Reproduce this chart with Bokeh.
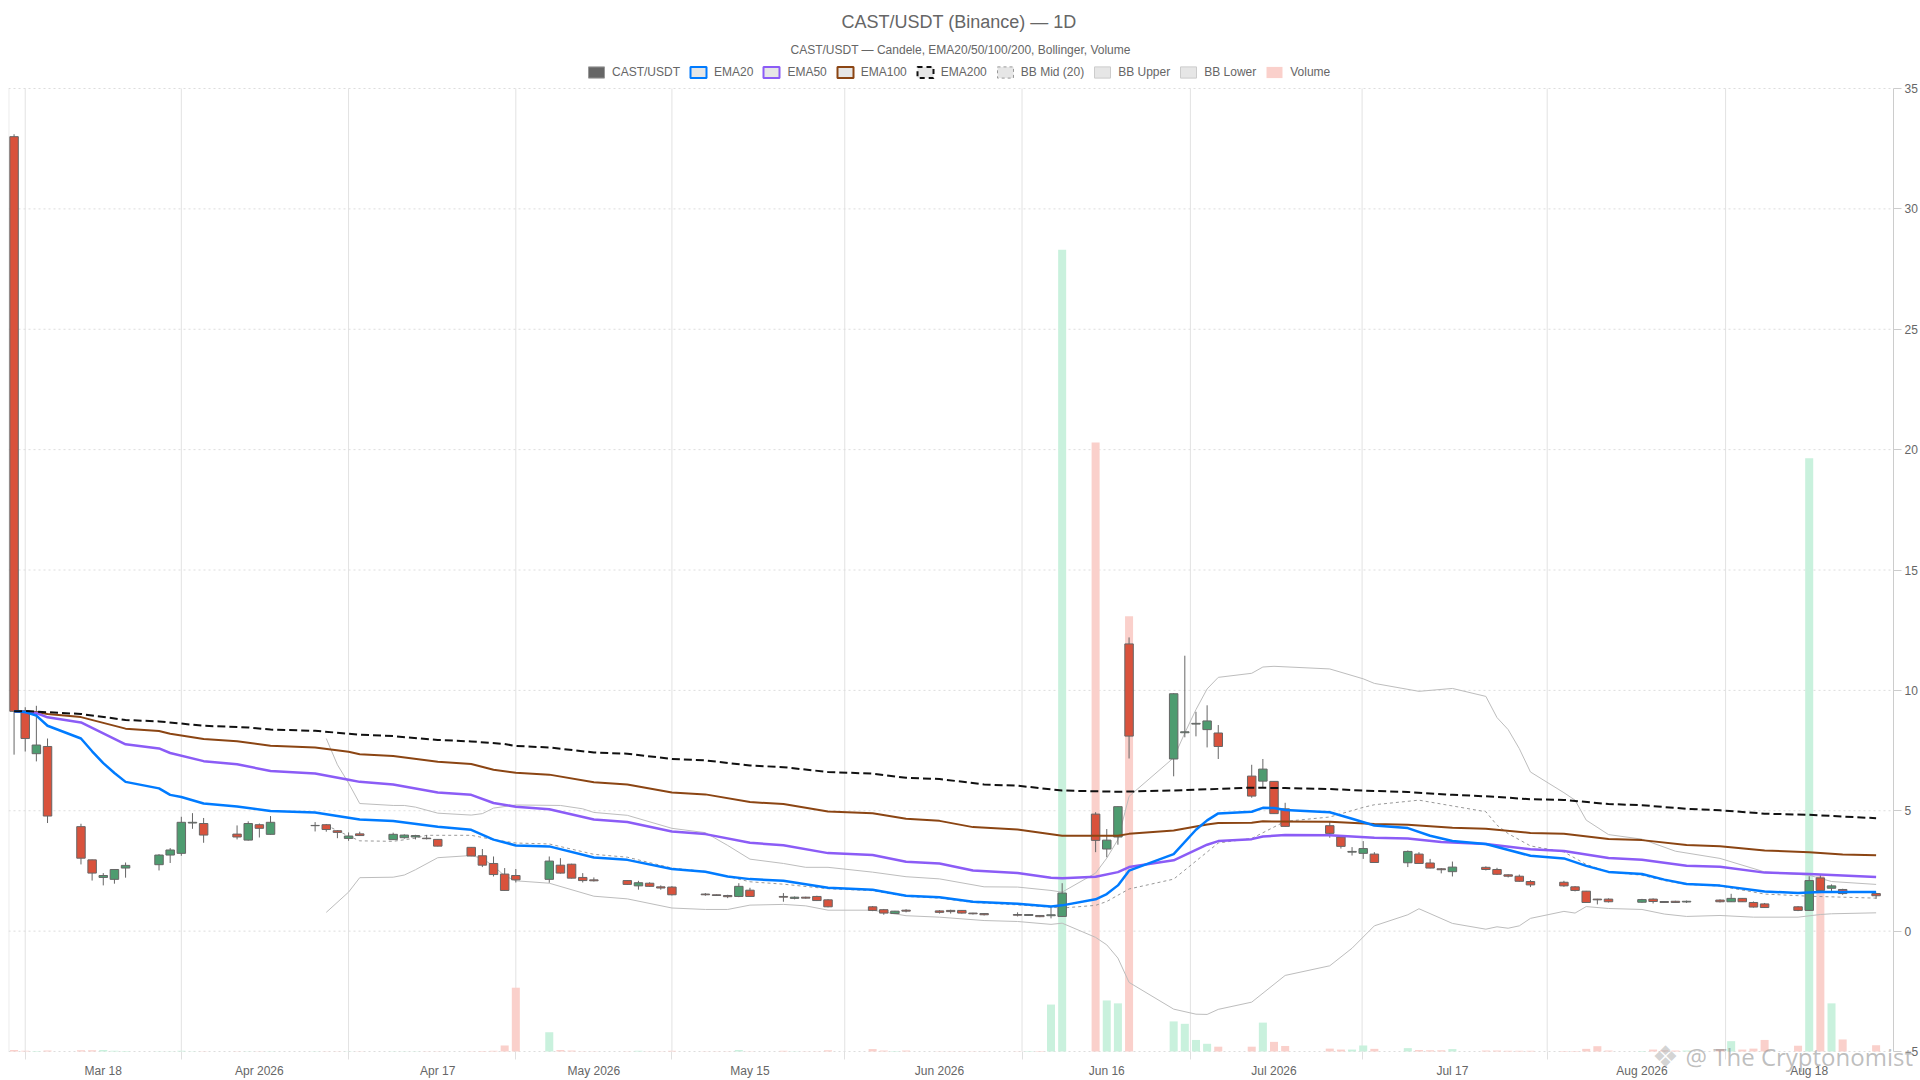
from bokeh.plotting import figure
from bokeh.embed import file_html
from bokeh.resources import INLINE
from bokeh.models import (Range1d, FixedTicker, LinearAxis, Legend, LegendItem, Title, Label,
                          ColumnDataSource)

TITLE = "CAST/USDT (Binance) — 1D"
SUBTITLE = "CAST/USDT — Candele, EMA20/50/100/200, Bollinger, Volume"

# Candles: day index from the first session (10 Mar 2026), open, high, low, close
idx = [0,1,2,3,6,7,8,9,10,13,14,15,16,17,20,21,22,23,27,28,29,30,31,34,35,36,37,38,41,42,43,44,45,48,49,50,51,52,55,56,57,58,59,62,63,64,65,66,69,70,71,72,73,77,78,79,80,83,84,85,86,87,90,91,92,93,94,97,98,99,100,104,105,106,107,108,111,112,113,114,118,119,120,121,122,125,126,127,128,129,132,133,134,135,136,139,140,141,142,143,146,147,148,149,150,153,154,155,156,157,160,161,162,163,164,167]
opens = [33.0,9.15,7.37,7.67,4.34,2.96,2.23,2.15,2.62,2.76,3.16,3.23,4.49,4.47,4.03,3.78,4.42,4.02,4.38,4.42,4.17,3.85,4.04,3.8,3.88,3.91,3.86,3.81,3.48,3.13,2.81,2.37,2.31,2.15,2.74,2.78,2.23,2.13,2.1,1.88,1.99,1.84,1.83,1.54,1.51,1.48,1.44,1.7,1.44,1.36,1.41,1.44,1.3,1.01,.89,.73,.87,.84,.86,.86,.75,.73,.69,.65,.65,.64,.61,4.86,3.41,3.91,11.93,7.15,8.24,8.6,8.37,8.23,6.44,6.23,6.22,5.08,4.38,3.91,3.28,3.23,3.2,2.84,3.2,2.83,2.59,2.47,2.65,2.56,2.34,2.28,2.06,2.03,1.84,1.66,1.33,1.33,1.2,1.33,1.23,1.24,1.21,1.29,1.22,1.36,1.19,1.13,1.01,.86,2.21,1.78,1.73,1.56]
highs = [33.1,9.3,9.36,8.0,4.46,2.97,2.41,2.57,2.85,3.2,3.45,4.75,4.9,4.7,4.39,4.56,4.47,4.78,4.53,4.45,4.18,4.1,4.13,4.09,4.02,4.0,3.99,3.82,3.49,3.41,3.1,2.62,2.58,3.1,3.03,2.8,2.41,2.23,2.11,2.09,2.03,1.9,1.87,1.58,1.52,1.51,1.99,1.8,1.58,1.44,1.43,1.47,1.33,1.04,.92,.84,.91,.87,.89,.87,.76,.75,.78,.7,.66,1.0,1.99,4.94,4.24,5.18,12.2,9.88,11.44,9.11,9.38,8.56,6.91,7.15,6.23,5.33,4.57,3.94,3.49,3.74,3.28,3.35,3.28,3.0,2.62,2.89,2.69,2.63,2.36,2.35,2.12,2.09,1.87,1.67,1.34,1.36,1.34,1.36,1.25,1.26,1.27,1.32,1.55,1.37,1.23,1.17,1.04,2.28,2.37,1.94,1.76,1.59]
lows = [7.33,7.46,7.05,4.49,2.77,2.1,1.9,1.97,2.22,2.52,2.83,3.13,4.25,3.67,3.81,3.76,3.89,4.01,4.14,4.13,3.86,3.75,3.96,3.79,3.84,3.81,3.81,3.52,3.11,2.66,2.27,1.67,2.02,2.01,2.39,2.19,2.02,2.06,1.92,1.72,1.84,1.72,1.48,1.47,1.46,1.37,1.41,1.43,1.22,1.32,1.35,1.25,.99,.83,.68,.72,.78,.73,.73,.73,.69,.65,.61,.64,.58,.53,.59,3.28,3.07,3.59,7.17,6.43,8.05,8.09,7.63,7.15,5.54,5.94,4.87,4.34,3.88,3.43,3.14,3.0,2.83,2.66,2.8,2.61,2.4,2.27,2.52,2.33,2.23,2.05,1.83,1.84,1.65,1.18,1.11,1.19,1.18,1.15,1.18,1.17,1.17,1.19,1.21,1.21,.98,.96,.83,.84,1.58,1.63,1.51,1.34]
closes = [9.13,8.0,7.73,4.78,3.03,2.41,2.31,2.56,2.73,3.16,3.37,4.52,4.52,3.99,3.91,4.47,4.27,4.52,4.39,4.22,4.10,3.95,3.97,4.02,3.99,3.97,3.84,3.53,3.12,2.74,2.35,1.69,2.13,2.91,2.41,2.2,2.1,2.09,1.94,2.01,1.86,1.79,1.51,1.51,1.48,1.43,1.86,1.44,1.41,1.41,1.37,1.27,1.01,.86,.75,.83,.83,.78,.81,.75,.72,.68,.66,.69,.6,.68,1.58,3.77,3.78,5.17,8.1,9.86,8.28,8.63,8.73,7.67,5.61,6.73,4.88,4.35,4.06,3.52,3.31,3.43,2.85,3.31,2.81,2.62,2.55,2.66,2.56,2.36,2.28,2.07,1.92,1.88,1.69,1.19,1.3,1.22,1.31,1.23,1.19,1.19,1.24,1.22,1.36,1.22,1.0,.98,.86,2.1,1.69,1.88,1.56,1.47]
volume = [.06,.03,.02,.04,.05,.05,.06,.03,.02,.01,.01,.03,.01,.01,.01,.01,.01,.01,.01,.01,.01,.01,.01,.01,.01,.01,.01,.01,.01,.02,.03,.25,2.65,.8,.06,.04,.01,.01,.01,.03,.01,.01,.03,.01,.01,.01,.06,.01,.03,.01,.01,.01,.05,.1,.04,.02,.04,.01,.01,.01,.01,.01,.01,.02,.02,1.95,33.3,25.3,2.12,2.0,18.08,1.25,1.15,.48,.32,.2,.2,1.2,.4,.23,.12,.08,.08,.25,.11,.14,.06,.05,.05,.1,.04,.04,.03,.03,.03,.02,.02,.11,.22,.04,.02,.08,.05,.04,.04,.1,.43,.08,.12,.48,.24,24.64,7.3,2.0,.5,.26]

ema20_x = [0,1,2,3,6,7,8,9,10,13,14,15,17,20,23,27,30,31,34,38,41,43,45,48,52,55,59,62,64,66,69,73,77,80,83,86,90,93,94,97,98,99,100,104,106,107,108,111,112,113,114,118,120,122,125,127,129,132,136,139,141,143,146,148,150,153,157,160,162,167]
ema20_y = [9.13,9.1,8.95,8.53,8.0,7.47,6.98,6.57,6.2,5.93,5.66,5.57,5.3,5.18,4.99,4.93,4.71,4.64,4.57,4.34,4.21,3.8,3.56,3.52,3.06,2.96,2.58,2.47,2.27,2.16,2.09,1.8,1.72,1.47,1.41,1.22,1.14,1.02,1.07,1.32,1.54,1.9,2.51,3.2,4.21,4.6,4.89,4.96,5.12,5.11,5.03,4.94,4.67,4.39,4.28,3.96,3.74,3.62,3.13,3.02,2.71,2.46,2.37,2.14,1.96,1.89,1.65,1.58,1.63,1.63]
ema50_x = [0,2,3,6,10,13,14,17,20,23,27,30,31,34,38,41,43,45,48,52,55,59,62,66,69,73,77,80,83,86,90,93,94,97,99,100,104,107,108,111,112,114,118,122,125,128,132,136,139,143,146,150,153,157,161,167]
ema50_y = [9.13,9.06,8.88,8.67,7.76,7.59,7.4,7.06,6.93,6.65,6.55,6.29,6.2,6.09,5.76,5.66,5.32,5.17,5.06,4.64,4.53,4.14,4.03,3.67,3.57,3.24,3.16,2.88,2.81,2.52,2.41,2.22,2.2,2.26,2.45,2.66,2.94,3.59,3.74,3.82,3.93,3.99,3.98,3.88,3.85,3.7,3.62,3.4,3.33,3.04,2.96,2.72,2.67,2.43,2.37,2.25]
ema100_x = [0,2,3,6,10,13,14,17,20,23,27,30,31,34,38,41,43,45,48,52,55,59,62,66,69,73,77,80,83,86,90,94,99,100,104,107,108,111,112,118,122,125,129,132,136,139,143,146,150,153,157,161,164,167]
ema100_y = [9.13,9.1,9.02,8.89,8.41,8.31,8.2,7.98,7.89,7.7,7.63,7.45,7.35,7.27,7.04,6.94,6.7,6.58,6.5,6.18,6.09,5.76,5.68,5.36,5.28,4.97,4.9,4.67,4.58,4.32,4.22,3.96,3.96,4.04,4.18,4.43,4.49,4.5,4.56,4.54,4.45,4.42,4.29,4.25,4.08,4.04,3.83,3.78,3.58,3.53,3.35,3.28,3.18,3.15]
ema200_x = [0,1,6,10,13,17,21,23,27,31,34,38,41,44,45,48,52,55,59,62,66,69,73,77,80,83,87,90,94,99,104,111,114,118,122,125,129,132,136,139,143,146,150,153,157,161,167]
ema200_y = [9.13,9.14,9.02,8.77,8.71,8.53,8.46,8.37,8.32,8.16,8.1,7.94,7.88,7.77,7.69,7.63,7.42,7.37,7.15,7.09,6.88,6.81,6.61,6.54,6.37,6.32,6.09,6.04,5.84,5.79,5.84,5.96,5.94,5.9,5.82,5.78,5.66,5.6,5.48,5.45,5.28,5.23,5.08,5.02,4.88,4.83,4.69]
bb_mid_x = [28,30,31,34,36,37,41,43,45,48,52,55,59,62,64,66,69,73,77,80,83,86,90,94,97,98,100,104,108,111,114,118,121,122,126,132,133,134,136,139,141,143,146,148,150,153,157,161,167]
bb_mid_y = [4.4,3.95,3.75,3.73,3.86,3.98,3.98,3.8,3.66,3.62,3.19,3.07,2.62,2.48,2.27,2.05,1.95,1.76,1.68,1.44,1.37,1.19,1.09,.96,1.07,1.23,1.75,2.16,3.66,3.85,4.56,4.74,5.14,5.25,5.44,4.96,4.4,4.05,3.54,3.29,2.77,2.46,2.32,2.1,1.94,1.87,1.54,1.45,1.37]
bb_up_x = [28,29,30,31,34,35,36,38,41,42,43,45,49,51,52,55,59,62,64,66,69,71,73,77,80,83,87,90,93,94,97,98,99,100,104,105,106,107,108,111,112,113,118,121,122,126,129,132,133,134,135,136,139,140,141,143,146,149,153,157,161,163,167]
bb_up_y = [8.0,6.91,6.15,5.3,5.22,5.22,5.15,4.9,4.82,4.88,5.11,5.24,5.22,5.08,4.93,4.81,4.27,4.09,3.56,2.99,2.81,2.65,2.65,2.45,2.26,2.17,1.84,1.83,1.69,1.62,2.41,3.03,3.8,5.6,7.2,8.23,9.2,10.06,10.54,10.71,10.97,11.0,10.89,10.48,10.29,9.96,10.08,9.75,8.87,8.37,7.58,6.61,5.75,5.44,4.61,4.01,3.82,3.32,3.02,2.46,2.32,2.06,1.94]
bb_lo_x = [28,30,31,34,35,36,38,41,42,43,44,45,48,52,55,59,62,64,66,69,71,73,77,80,83,87,90,93,94,97,98,99,100,104,106,107,108,111,114,118,120,122,125,126,129,132,133,134,135,136,139,140,141,143,146,148,150,153,156,160,162,163,167]
bb_lo_y = [.78,1.62,2.22,2.24,2.33,2.55,3.05,3.14,3.02,2.7,2.3,2.09,1.99,1.45,1.34,.96,.9,.9,1.08,1.11,1.05,.87,.87,.64,.58,.44,.4,.28,.33,-.26,-.57,-1.12,-2.13,-3.24,-3.45,-3.46,-3.25,-2.95,-1.84,-1.44,-.71,.22,.68,.93,.32,.08,.18,.12,.22,.53,.82,.75,1.02,.94,.9,.71,.61,.65,.58,.58,.69,.72,.76]

date_ticks = [8,22,38,52,66,83,98,113,129,146,161]
date_labels = ["Mar 18","Apr 2026","Apr 17","May 2026","May 15","Jun 2026","Jun 16","Jul 2026","Jul 17","Aug 2026","Aug 18"]
split_ticks = [1,15,30,45,59,74.5,90.4,105.5,120.9,137.5,153.5]
price_ticks = [-5,0,5,10,15,20,25,30,35]
legend_labels = ["CAST/USDT","EMA20","EMA50","EMA100","EMA200","BB Mid (20)","BB Upper","BB Lower","Volume"]

GREY = "#666666"
UP, DOWN = "#4e9c70", "#d9523c"
VUP, VDOWN = "#c9f1dd", "#fad0cb"
EDGE = "#666666"
NAN = float("nan")
PRICE_MIN, PRICE_MAX = -5, 35
X_MIN, X_MAX = -0.5, 168.56
# The frame reaches past the price scale on three sides, so that the legend, the axes
# and the watermark are not cut by it; the scale itself stays 24.075 px per unit, 11.154 px per day.
PX_Y = 963 / (PRICE_MAX - PRICE_MIN)
PX_X = 1885 / (X_MAX - X_MIN)
TOP_EXTRA, BOTTOM_EXTRA, RIGHT_EXTRA = 32 / PX_Y, 29 / PX_Y, 27 / PX_X

p = figure(frame_width=1912, frame_height=1024, output_backend="svg", toolbar_location=None,
           x_range=Range1d(X_MIN, X_MAX + RIGHT_EXTRA),
           y_range=Range1d(PRICE_MIN - BOTTOM_EXTRA, PRICE_MAX + TOP_EXTRA),
           min_border_left=8, min_border_right=0, min_border_top=56, min_border_bottom=0,
           background_fill_color="white", outline_line_color=None,
           x_axis_type=None, y_axis_type=None)
p.extra_y_ranges = {"volume": Range1d(-BOTTOM_EXTRA, PRICE_MAX - PRICE_MIN + TOP_EXTRA)}

p.title.text = TITLE
p.title.align = "left"
p.title.offset = 833
p.title.text_font = "Liberation Sans"
p.title.text_font_size = "18px"
p.title.text_font_style = "normal"
p.title.text_color = GREY
p.title.standoff = 18

sub = Title(text=SUBTITLE, align="left", offset=782, text_font="Liberation Sans",
            text_font_size="12px", text_font_style="normal", text_color=GREY, standoff=0)
p.add_layout(sub, "above")

# axes, fixed at the edges of the price scale
ax = LinearAxis(ticker=FixedTicker(ticks=split_ticks), fixed_location=PRICE_MIN,
                major_label_overrides={t: "" for t in split_ticks},
                major_label_standoff=0, major_label_text_font_size="1px",
                axis_line_color=None, major_tick_line_color="#e0e0e0",
                major_tick_in=0, major_tick_out=8, minor_tick_line_color=None)
p.add_layout(ax, "below")

lab = LinearAxis(ticker=FixedTicker(ticks=date_ticks), fixed_location=PRICE_MIN,
                 major_label_overrides=dict(zip(date_ticks, date_labels)),
                 axis_line_color=None, major_tick_line_color=None, minor_tick_line_color=None,
                 major_tick_in=0, major_tick_out=0,
                 major_label_text_font="Liberation Sans", major_label_text_font_size="12px",
                 major_label_text_color=GREY, major_label_standoff=12)
p.add_layout(lab, "below")

ya = LinearAxis(ticker=FixedTicker(ticks=price_ticks), fixed_location=X_MAX,
                bounds=(PRICE_MIN, PRICE_MAX),
                axis_line_color="#cccccc", major_tick_line_color="#cccccc",
                major_tick_in=0, major_tick_out=8, minor_tick_line_color=None,
                major_label_standoff=3, major_label_text_font="Liberation Sans",
                major_label_text_font_size="12px", major_label_text_color=GREY)
p.add_layout(ya, "right")

split_lines = [-0.47] + split_ticks
p.segment(x0=split_lines, x1=split_lines, y0=[PRICE_MIN] * len(split_lines), y1=[PRICE_MAX] * len(split_lines),
          line_color="#e2e2e2", line_width=1)
p.segment(x0=[X_MIN] * len(price_ticks), x1=[X_MAX] * len(price_ticks), y0=price_ticks, y1=price_ticks,
          line_color="#dddddd", line_width=1, line_dash="2 3")

# volume
src = ColumnDataSource(dict(
    x=idx, o=opens, h=highs, l=lows, c=closes, v=volume,
    top=[max(a, b) for a, b in zip(opens, closes)],
    bot=[min(a, b) for a, b in zip(opens, closes)],
    body=[UP if b >= a else DOWN for a, b in zip(opens, closes)],
    vcol=[VUP if b >= a else VDOWN for a, b in zip(opens, closes)],
))
p.vbar(x="x", top="v", bottom=0, width=0.72, fill_color="vcol", line_color=None, source=src,
       y_range_name="volume")

# indicators below candles
def line(x, y, color, width, dash="solid"):
    return p.line(x, y, line_color=color, line_width=width, line_dash=dash, line_join="round")

line(bb_up_x, bb_up_y, "#bdbdbd", 1)
line(bb_lo_x, bb_lo_y, "#bdbdbd", 1)
line(bb_mid_x, bb_mid_y, "#999999", 1, "3 3")

p.segment(x0="x", x1="x", y0="l", y1="h", line_color=EDGE, line_width=1, source=src)
p.vbar(x="x", top="top", bottom="bot", width=0.76, fill_color="body", line_color=EDGE, line_width=1, source=src)

line(ema100_x, ema100_y, "#8b4513", 2)
line(ema50_x, ema50_y, "#8b5cf6", 2.5)
line(ema20_x, ema20_y, "#007bff", 2.5)
line(ema200_x, ema200_y, "#111111", 2, "8 4")

# legend swatches: glyphs with no drawable position
SW = "#e6e6e6"
def swatch(fill, edge, width=2, dash="solid"):
    return p.quad(left=[NAN], right=[NAN], top=[NAN], bottom=[NAN], fill_color=fill, line_color=edge,
                  line_width=width, line_dash=dash)

swatches = [
    swatch("#666666", "#999999", 1),
    swatch(SW, "#007bff"),
    swatch(SW, "#8b5cf6"),
    swatch(SW, "#8b4513"),
    swatch(SW, "#111111", 2, "5 4"),
    swatch(SW, "#999999", 1, "3 3"),
    swatch(SW, "#cccccc", 1),
    swatch(SW, "#cccccc", 1),
    swatch(VDOWN, None, 0),
]
legend = Legend(items=[LegendItem(label=t, renderers=[r]) for t, r in zip(legend_labels, swatches)],
                orientation="horizontal", location=(578, 1001), margin=0, padding=0, spacing=8,
                glyph_width=20, glyph_height=14, label_standoff=6, label_height=14,
                label_text_font="Liberation Sans", label_text_font_size="12px", label_text_color=GREY,
                border_line_color=None, background_fill_alpha=0)
p.add_layout(legend, "center")

# watermark
p.add_layout(Label(x=1677, y=-5.2, x_units="screen", y_units="data", text="@ The Cryptonomist",
                   text_font="Open Sans", text_font_size="24px", text_color="#888888", text_alpha=0.55,
                   text_baseline="middle"))
p.add_layout(Label(x=1657, y=-5.2, x_units="screen", y_units="data", text="❖",
                   text_font="DejaVu Sans", text_font_size="30px", text_color="#aaaaaa", text_alpha=0.5,
                   text_align="center", text_baseline="middle"))

open("out.html", "w").write(file_html(p, INLINE))
